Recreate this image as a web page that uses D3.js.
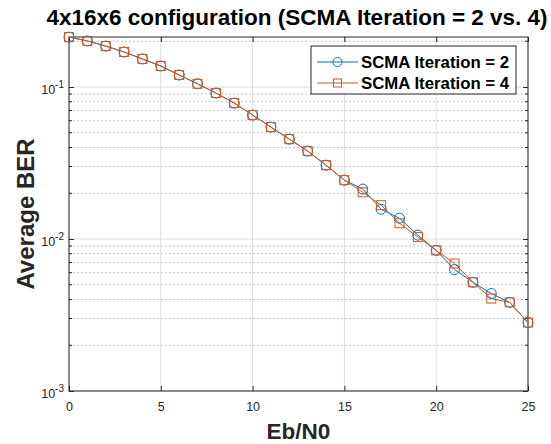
<!DOCTYPE html>
<html><head><meta charset="utf-8">
<script src="https://cdn.jsdelivr.net/npm/d3@7"></script>
<style>body{margin:0;background:#fff;} svg{display:block;font-family:"Liberation Sans",Arial,Helvetica,sans-serif;}</style>
</head><body>
<script>
const ebn0 = [0,1,2,3,4,5,6,7,8,9,10,11,12,13,14,15,16,17,18,19,20,21,22,23,24,25];
const berIter2 = [0.213,0.201,0.186,0.170,0.153,0.1375,0.120,0.105,0.0913,0.0784,0.0654,0.0545,0.0454,0.0379,0.0306,0.0244,0.0213,0.0157,0.0137,0.0106,0.00842,0.0063,0.00519,0.00438,0.00383,0.00282];
const berIter4 = [0.213,0.201,0.186,0.170,0.153,0.1375,0.120,0.105,0.0913,0.0784,0.0654,0.0545,0.0454,0.0379,0.0306,0.0244,0.0203,0.0167,0.0127,0.0103,0.00842,0.0069,0.00519,0.00406,0.00383,0.00282];
const xTicks = [0,5,10,15,20,25];
const yTickExps = [-1,-2,-3];
const seriesNames = ["SCMA Iteration = 2","SCMA Iteration = 4"];
const seriesColors = ["#0072BD","#D95319"];

const W=551,H=444;
const L=69,R=528,T=37,B=391;
const svg=d3.select("body").append("svg").attr("width",W).attr("height",H);
const x=d3.scaleLinear().domain([0,25]).range([L,R]);
const y=d3.scaleLog().domain([1e-3,0.2134]).range([B,T]);

// grid
const g=svg.append("g");
const minor=[];
for(let e=-3;e<0;e++){for(let m=2;m<=9;m++){const v=m*Math.pow(10,e); if(v<=0.2134) minor.push(v);}}
g.selectAll(".mn").data(minor).enter().append("line")
 .attr("x1",L).attr("x2",R).attr("y1",d=>y(d)).attr("y2",d=>y(d))
 .attr("stroke","#c4c4c4").attr("stroke-width",1).attr("stroke-dasharray","2,2");
g.selectAll(".mjx").data(xTicks).enter().append("line")
 .attr("x1",d=>x(d)).attr("x2",d=>x(d)).attr("y1",T).attr("y2",B)
 .attr("stroke","#dcdcdc").attr("stroke-width",1);
g.selectAll(".mjy").data(yTickExps).enter().append("line")
 .attr("x1",L).attr("x2",R).attr("y1",d=>y(Math.pow(10,d))).attr("y2",d=>y(Math.pow(10,d)))
 .attr("stroke","#dcdcdc").attr("stroke-width",1);

// axes box
const ax="#262626";
svg.append("rect").attr("x",L).attr("y",T).attr("width",R-L).attr("height",B-T)
 .attr("fill","none").attr("stroke",ax).attr("stroke-width",1);
// ticks
const xa=d3.axisBottom(x).tickValues(xTicks).tickSize(-5).tickFormat(d3.format("d"));
const xg=svg.append("g").attr("transform",`translate(0,${B})`).call(xa);
xg.select(".domain").remove();
xg.selectAll("line").attr("stroke",ax);
xg.selectAll("text").attr("fill",ax).attr("font-size","12.5px").attr("dy","1.35em");
const xt=svg.append("g").attr("transform",`translate(0,${T})`).call(d3.axisTop(x).tickValues(xTicks).tickSize(-5).tickFormat(""));
xt.select(".domain").remove(); xt.selectAll("line").attr("stroke",ax);
const yTickVals=yTickExps.map(e=>Math.pow(10,e));
const ya=svg.append("g").attr("transform",`translate(${L},0)`).call(d3.axisLeft(y).tickValues(yTickVals).tickSize(-5).tickFormat(""));
ya.select(".domain").remove(); ya.selectAll("line").attr("stroke",ax);
const yr=svg.append("g").attr("transform",`translate(${R},0)`).call(d3.axisRight(y).tickValues(yTickVals).tickSize(-5).tickFormat(""));
yr.select(".domain").remove(); yr.selectAll("line").attr("stroke",ax);
// minor ticks
[[L,1],[R,-1]].forEach(([px,s])=>{
 svg.selectAll(null).data(minor).enter().append("line")
  .attr("x1",px).attr("x2",px+s*3).attr("y1",d=>y(d)).attr("y2",d=>y(d)).attr("stroke",ax);
});
// y tick labels
const yl=svg.selectAll(".ytl").data(yTickExps).enter().append("text")
 .attr("x",L-5).attr("y",d=>y(Math.pow(10,d))+7).attr("text-anchor","end")
 .attr("fill",ax).attr("font-size","12.5px");
yl.append("tspan").text("10");
yl.append("tspan").attr("dy","-6").attr("font-size","10px").text(d=>String(d));

// lines
const sets=[berIter2,berIter4];
const line=d3.line().x((d,i)=>x(ebn0[i])).y(d=>y(d));
sets.forEach((s,k)=>{
 svg.append("path").datum(s).attr("d",line).attr("fill","none").attr("stroke",seriesColors[k]).attr("stroke-width",1);
});
svg.selectAll(".c").data(berIter2).enter().append("circle")
 .attr("cx",(d,i)=>x(ebn0[i])).attr("cy",d=>y(d)).attr("r",5)
 .attr("fill","none").attr("stroke",seriesColors[0]).attr("stroke-width",1);
svg.selectAll(".s").data(berIter4).enter().append("rect")
 .attr("x",(d,i)=>x(ebn0[i])-4.5).attr("y",d=>y(d)-4.5).attr("width",9).attr("height",9)
 .attr("fill","none").attr("stroke",seriesColors[1]).attr("stroke-width",1);

// legend
const lg=svg.append("g");
lg.append("rect").attr("x",311).attr("y",46).attr("width",205).attr("height",48)
 .attr("fill","#fff").attr("stroke",ax).attr("stroke-width",1);
seriesNames.forEach((n,k)=>{
 const ly=62+k*21;
 lg.append("line").attr("x1",317).attr("x2",358).attr("y1",ly).attr("y2",ly).attr("stroke",seriesColors[k]);
 if(k===0) lg.append("circle").attr("cx",337.5).attr("cy",ly).attr("r",4.5).attr("fill","none").attr("stroke",seriesColors[k]);
 else lg.append("rect").attr("x",333.5).attr("y",ly-4).attr("width",8).attr("height",8).attr("fill","none").attr("stroke",seriesColors[k]);
 lg.append("text").attr("x",361).attr("y",ly+6).attr("font-size","16.8px").attr("font-weight","bold").attr("fill","#000").text(n);
});

// titles
svg.append("text").attr("x",297).attr("y",25).attr("text-anchor","middle")
 .attr("font-size","22.5px").attr("font-weight","bold").attr("fill","#000")
 .text("4x16x6 configuration (SCMA Iteration = 2 vs. 4)");
svg.append("text").attr("x",(L+R)/2).attr("y",439).attr("text-anchor","middle")
 .attr("font-size","22.5px").attr("font-weight","bold").attr("fill","#262626").text("Eb/N0");
svg.append("text").attr("transform",`translate(34,${(T+B)/2}) rotate(-90)`).attr("text-anchor","middle")
 .attr("font-size","24px").attr("font-weight","bold").attr("fill","#262626").text("Average BER");
</script>
</body></html>
